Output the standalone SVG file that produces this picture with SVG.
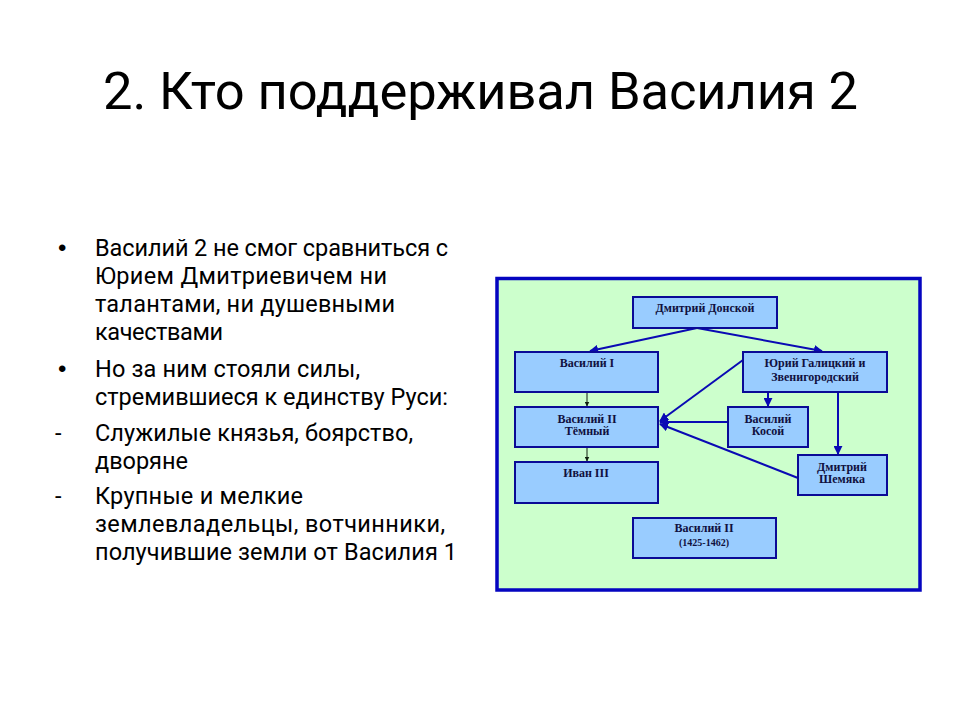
<svg xmlns="http://www.w3.org/2000/svg" width="960" height="720" viewBox="0 0 960 720">
<defs>
<style>
.title{font-family:Roboto,"Open Sans","Liberation Sans",sans-serif;font-size:52.5px;fill:#000}
.body{font-family:Roboto,"Open Sans","Liberation Sans",sans-serif;font-size:23.5px;fill:#000}
.bul{font-family:"Liberation Sans",Arial,sans-serif;font-size:24px;fill:#000}
.box{fill:#99CCFF;stroke:#0A0A96;stroke-width:2}
.lbl{font-family:"Liberation Serif","Times New Roman",serif;font-weight:bold;font-size:12px;fill:#101040;text-anchor:middle}
.sm{font-size:10px}
.con{stroke:#0A0AB4;stroke-width:2;fill:none}
.thin{stroke:#102010;stroke-width:1;fill:none}
</style>
<marker id="ab" viewBox="0 0 10 10" refX="9" refY="5" markerWidth="4.5" markerHeight="4.5" orient="auto" markerUnits="strokeWidth">
<path d="M0,0 L10,5 L0,10 z" fill="#0A0AB4"/>
</marker>
<marker id="at" viewBox="0 0 10 10" refX="9" refY="5" markerWidth="5" markerHeight="5" orient="auto" markerUnits="strokeWidth">
<path d="M0,0 L10,5 L0,10 z" fill="#102010"/>
</marker>
</defs>
<rect width="960" height="720" fill="#fff"/>
<text class="title" x="103" y="109" textLength="755">2. Кто поддерживал Василия 2</text>
<g id="text-list">
<text class="bul" x="58" y="256">•</text>
<text class="body" x="95" y="256" textLength="353">Василий 2 не смог сравниться с</text>
<text class="body" x="95" y="284" textLength="292">Юрием Дмитриевичем ни</text>
<text class="body" x="95" y="312" textLength="300">талантами, ни душевными</text>
<text class="body" x="95" y="340" textLength="128">качествами</text>
<text class="bul" x="58" y="377">•</text>
<text class="body" x="95" y="377" textLength="265">Но за ним стояли силы,</text>
<text class="body" x="95" y="405" textLength="353">стремившиеся к единству Руси:</text>
<text class="body" x="55" y="441">-</text>
<text class="body" x="95" y="441" textLength="318">Служилые князья, боярство,</text>
<text class="body" x="95" y="469" textLength="93">дворяне</text>
<text class="body" x="55" y="504">-</text>
<text class="body" x="95" y="504" textLength="208">Крупные и мелкие</text>
<text class="body" x="95" y="532" textLength="350">землевладельцы, вотчинники,</text>
<text class="body" x="95" y="560" textLength="362">получившие земли от Василия 1</text>
</g>
<rect id="frame" x="497" y="278.5" width="423" height="311.5" fill="#CCFFCC" stroke="#0505C0" stroke-width="3.5"/>
<g id="connectors">
<line class="con" x1="697" y1="328" x2="590" y2="351" marker-end="url(#ab)"/>
<line class="con" x1="697" y1="328" x2="822" y2="351" marker-end="url(#ab)"/>
<line class="thin" x1="587" y1="392" x2="587" y2="406" marker-end="url(#at)"/>
<line class="thin" x1="587" y1="447" x2="587" y2="461" marker-end="url(#at)"/>
<line class="con" x1="743" y1="360" x2="660" y2="421" marker-end="url(#ab)"/>
<line class="con" x1="728" y1="422" x2="660" y2="422" marker-end="url(#ab)"/>
<line class="con" x1="798" y1="478" x2="660" y2="424" marker-end="url(#ab)"/>
<line class="con" x1="768" y1="392" x2="768" y2="406" marker-end="url(#ab)"/>
<line class="con" x1="838" y1="392" x2="838" y2="454" marker-end="url(#ab)"/>
</g>
<g id="n-dd"><rect class="box" x="633" y="297" width="144" height="31"/><text class="lbl" x="705" y="312">Дмитрий Донской</text></g>
<g id="n-v1"><rect class="box" x="515" y="352" width="143" height="40"/><text class="lbl" x="587" y="367">Василий I</text></g>
<g id="n-yuri"><rect class="box" x="743" y="352" width="144" height="40"/><text class="lbl" x="815" y="367">Юрий Галицкий и</text><text class="lbl" x="815" y="380.5">Звенигородский</text></g>
<g id="n-v2"><rect class="box" x="515" y="407" width="143" height="40"/><text class="lbl" x="587" y="422.5">Василий II</text><text class="lbl" x="587" y="435">Тёмный</text></g>
<g id="n-kosoy"><rect class="box" x="728" y="407" width="80" height="40"/><text class="lbl" x="768" y="422.5">Василий</text><text class="lbl" x="768" y="435">Косой</text></g>
<g id="n-shemyaka"><rect class="box" x="798" y="455" width="89" height="40"/><text class="lbl" x="842" y="470.5">Дмитрий</text><text class="lbl" x="842" y="483">Шемяка</text></g>
<g id="n-ivan"><rect class="box" x="515" y="462" width="143" height="41"/><text class="lbl" x="586" y="476.5">Иван III</text></g>
<g id="n-v2dates"><rect class="box" x="633" y="518" width="143" height="40"/><text class="lbl" x="704" y="531.5">Василий II</text><text class="lbl sm" x="704" y="546">(1425-1462)</text></g>
</svg>
